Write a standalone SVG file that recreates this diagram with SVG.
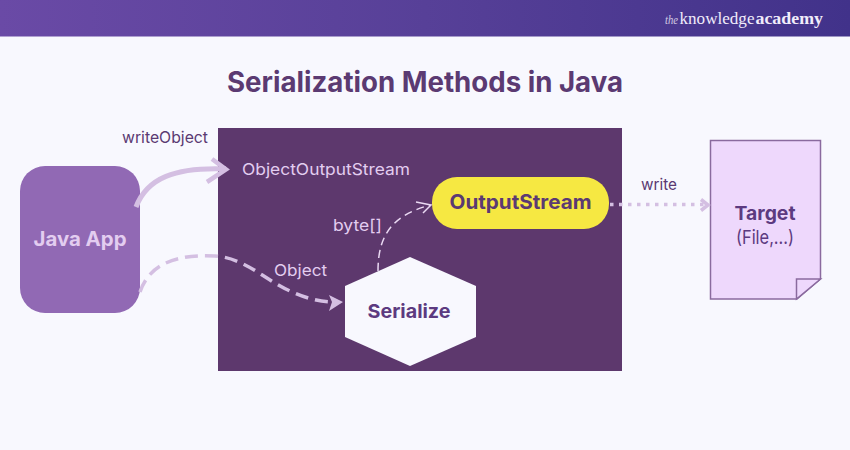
<svg xmlns="http://www.w3.org/2000/svg" width="850" height="450" viewBox="0 0 850 450">
<style>
text{font-family:"Inter","Noto Sans","Liberation Sans",sans-serif}
.lab{font-size:16px}
.light{fill:#e3cdf0}
.dark{fill:#5b3a72}
.b{font-weight:700}
.logo{font-family:"Liberation Serif",serif;fill:#f1ecfa}
.c{fill:none;stroke:#d4bfe2;stroke-linecap:butt}
</style>
<defs>
<linearGradient id="hdr" x1="0" x2="1" y1="0" y2="0"><stop offset="0" stop-color="#6a4aa6"/><stop offset="0.5" stop-color="#574098"/><stop offset="1" stop-color="#41328a"/></linearGradient>
</defs>
<rect width="850" height="450" fill="#f8f8fe"/>
<g id="header">
<rect width="850" height="36.500" fill="url(#hdr)"/>
<text class="logo" x="665" y="24" font-size="12" font-style="italic" textLength="13" lengthAdjust="spacingAndGlyphs" style="opacity:.8">the</text>
<text class="logo" x="679.500" y="24" font-size="17.500" textLength="75" lengthAdjust="spacingAndGlyphs">knowledge</text>
<text class="logo b" x="755.500" y="24" font-size="17.500" textLength="67.500" lengthAdjust="spacingAndGlyphs">academy</text>
</g>
<text x="425" y="92" text-anchor="middle" font-size="28" class="b" fill="#5b3a72" textLength="396" lengthAdjust="spacingAndGlyphs">Serialization Methods in Java</text>
<rect id="container" x="218" y="128" width="404" height="243" fill="#5d386d"/>
<g id="java-app">
<rect x="20" y="166" width="120" height="147" rx="25" fill="#9169b4"/>
<text x="80" y="246" text-anchor="middle" font-size="20" class="b light" textLength="93" lengthAdjust="spacingAndGlyphs">Java App</text>
</g>
<g id="serialize">
<polygon points="410,257 476,286 476,337 410,366 345,337 345,286" fill="#f8f8fe"/>
<text x="409" y="318" text-anchor="middle" font-size="19" class="b" fill="#5c3a80" textLength="83" lengthAdjust="spacingAndGlyphs">Serialize</text>
</g>
<g id="output-stream">
<rect x="432" y="177" width="177" height="52" rx="25" fill="#f6e842"/>
<text x="520.500" y="209" text-anchor="middle" font-size="20" class="b" fill="#5b3a72" textLength="142" lengthAdjust="spacingAndGlyphs">OutputStream</text>
</g>
<g id="target">
<path d="M710.500 140.500H820.500V279L797 299H710.500Z" fill="#eed8fc" stroke="#8a6a9e" stroke-width="1.500"/>
<path d="M820.500 279H796.500V299Z" fill="#eed8fc" stroke="#8a6a9e" stroke-width="1.500"/>
<text x="765" y="220" text-anchor="middle" font-size="19" class="b" fill="#5c3a80" textLength="61" lengthAdjust="spacingAndGlyphs">Target</text>
<text x="765" y="244" text-anchor="middle" font-size="19" fill="#5c3a80" textLength="58" lengthAdjust="spacingAndGlyphs">(File,...)</text>
</g>
<g id="connectors">
<path class="c" stroke-width="5" d="M136 207C147 178 175 167 226 169"/>
<path class="c" stroke-width="4.500" d="M212 159L226 169.500L207 182"/>
<path class="c" stroke-width="3.500" stroke-dasharray="13 7" d="M140 292C150 262 180 254 215 256C245 258 265 280 290 291C305 298 320 302 332 302"/>
<path fill="#d4bfe2" d="M329 295L343 302L329 311L332 302Z"/>
<path class="c" style="stroke:#ead9f3" stroke-width="1.500" stroke-dasharray="8 5" d="M378 271C378 232 395 215 430 205"/>
<path fill="none" stroke="#ead9f3" stroke-width="1.500" d="M416 202L431 205L423 213"/>
<path class="c" stroke-width="3.500" stroke-dasharray="3.500 5.500" d="M610 204.500H705"/>
<path class="c" stroke-width="3.500" d="M701 199.500L708 205L701 210.500"/>
</g>
<g id="labels">
<text x="122" y="143" class="lab dark" textLength="86" lengthAdjust="spacingAndGlyphs">writeObject</text>
<text x="242" y="175" class="lab light" textLength="168" lengthAdjust="spacingAndGlyphs">ObjectOutputStream</text>
<text x="274" y="276" class="lab light" textLength="53" lengthAdjust="spacingAndGlyphs">Object</text>
<text x="333" y="231" class="lab light" textLength="49" lengthAdjust="spacingAndGlyphs">byte[]</text>
<text x="641" y="190" class="lab dark" textLength="36" lengthAdjust="spacingAndGlyphs">write</text>
</g>
</svg>
